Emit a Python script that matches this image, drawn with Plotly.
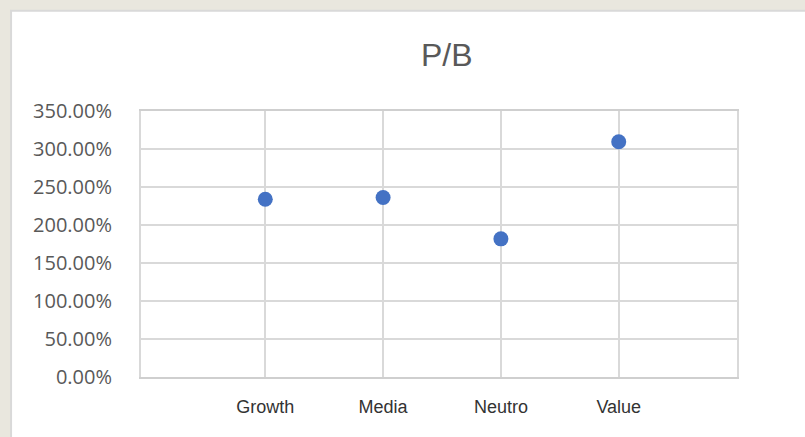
import plotly.graph_objects as go

# P/B ratio by investment style
categories = ["Growth", "Media", "Neutro", "Value"]
pb_values = [2.339, 2.361, 1.818, 3.096]

y_ticks = [0, 0.5, 1.0, 1.5, 2.0, 2.5, 3.0, 3.5]

fig = go.Figure()

fig.add_trace(go.Scatter(
    x=categories,
    y=pb_values,
    mode="markers",
    marker=dict(color="#4472C4", size=15, line=dict(width=0)),
    showlegend=False,
    hoverinfo="x+y",
))

# White chart frame over a lightly tinted page
fig.add_shape(
    type="rect", xref="paper", yref="paper",
    x0=-0.218, x1=1.2, y0=-0.3, y1=1.377,
    fillcolor="white", line=dict(color="#d9d9d9", width=2),
    layer="below",
)

fig.update_layout(
    width=805,
    height=437,
    margin=dict(l=141, r=68, t=111, b=60),
    paper_bgcolor="#e9e7de",
    plot_bgcolor="rgba(0,0,0,0)",
    title=dict(
        text="P/B",
        x=0.555, xanchor="center",
        y=0.875, yanchor="middle",
        font=dict(family="Liberation Sans Narrow, Liberation Sans, sans-serif",
                  size=32, color="#595959"),
    ),
    xaxis=dict(
        type="category",
        range=[-1.055, 4.004],
        showgrid=True,
        gridcolor="#d9d9d9",
        gridwidth=1.5,
        showline=True,
        linecolor="#cfcfcf",
        linewidth=2,
        mirror=True,
        ticks="",
        ticklabelstandoff=12,
        tickfont=dict(family="Liberation Sans, Arial, sans-serif", size=18, color="#333333"),
        zeroline=False,
    ),
    yaxis=dict(
        range=[0, 3.5],
        tickvals=y_ticks,
        tickformat=".2%",
        showgrid=True,
        gridcolor="#d9d9d9",
        gridwidth=1.5,
        showline=True,
        linecolor="#d9d9d9",
        linewidth=2,
        mirror=True,
        ticks="",
        ticklabelstandoff=23,
        tickfont=dict(family="Open Sans, Noto Sans, sans-serif", size=20, color="#595959"),
        zeroline=False,
    ),
)

fig.write_html("out.html")
